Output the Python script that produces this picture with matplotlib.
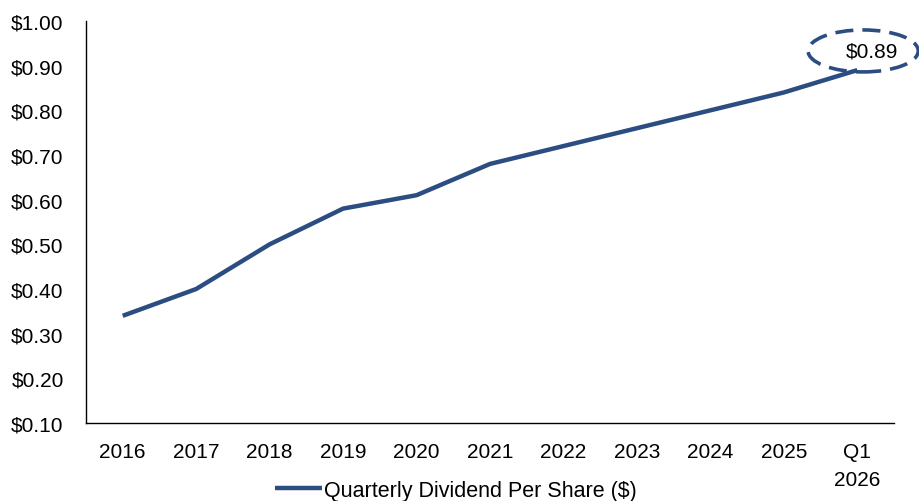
import matplotlib.pyplot as plt
from matplotlib.patches import Ellipse

plt.rcParams['font.family'] = ['Liberation Sans', 'DejaVu Sans']

years = ['2016', '2017', '2018', '2019', '2020', '2021', '2022', '2023', '2024', '2025', 'Q1\n2026']
dividend = [0.34, 0.40, 0.50, 0.58, 0.61, 0.68, 0.72, 0.76, 0.80, 0.84, 0.89]
yticks = [0.10, 0.20, 0.30, 0.40, 0.50, 0.60, 0.70, 0.80, 0.90, 1.00]

color = '#2C4D82'

fig = plt.figure(figsize=(9.19, 5.02), dpi=100)
ax = fig.add_axes([86 / 919, 1 - 424 / 502, 808 / 919, 402 / 502])

x = list(range(len(years)))
ax.plot(x, dividend, color=color, linewidth=3.2, solid_capstyle='butt',
        label='Quarterly Dividend Per Share ($)')

ax.set_xlim(-0.5, len(years) - 0.5)
ax.set_ylim(0.10, 1.00)
ax.set_xticks(x)
ax.set_xticklabels(years, linespacing=1.6)
ax.set_yticks(yticks)
ax.set_yticklabels([f'${v:.2f}' for v in yticks])
ax.tick_params(length=0, labelsize=15)
ax.tick_params(axis='x', pad=14)
ax.tick_params(axis='y', pad=16)
for s in ['top', 'right']:
    ax.spines[s].set_visible(False)
ax.spines['left'].set_linewidth(1.0)
ax.spines['bottom'].set_linewidth(1.0)

# callout for the latest value
last = len(years) - 1
ell = Ellipse((last + 0.08, 0.933), 1.5, 0.094, fill=False,
              edgecolor=color, linewidth=2.6, linestyle=(0, (5, 2.5)), clip_on=False)
ax.add_patch(ell)
ax.text(last + 0.2, 0.933, f'${dividend[-1]:.2f}', ha='center', va='center', fontsize=15)

ax.legend(loc='center', bbox_to_anchor=(0.458, -0.167), frameon=False, fontsize=15.5,
          handlelength=2.2, handletextpad=0.1)

fig.savefig('out.png', dpi=100)
